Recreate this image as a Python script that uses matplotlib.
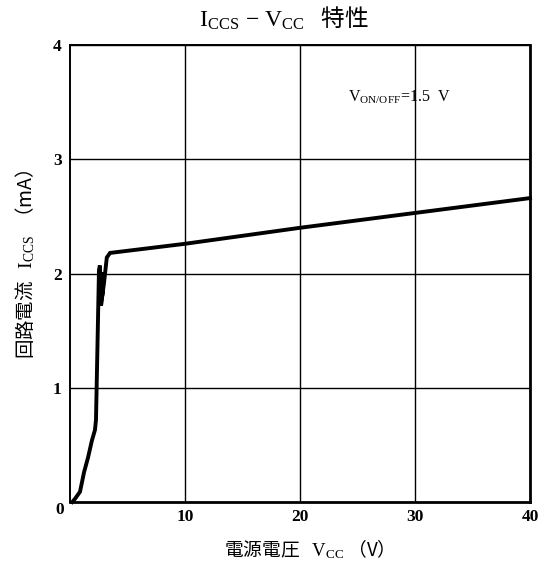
import matplotlib
matplotlib.use("Agg")
import matplotlib.pyplot as plt

plt.rcParams['mathtext.fontset'] = 'custom'
plt.rcParams['mathtext.rm'] = 'Liberation Serif'
plt.rcParams['mathtext.it'] = 'Liberation Serif:italic'
plt.rcParams['mathtext.bf'] = 'Liberation Serif:bold'

# 電源電圧 Vcc (V) と回路電流 Iccs (mA)
vcc = [0.2, 0.45, 0.87, 1.22, 1.57, 1.91, 2.17, 2.26, 2.52, 2.6, 2.7, 2.78, 2.87, 2.8, 2.96, 3.2, 3.48, 10, 20, 30, 40]
iccs = [0.0, 0.03, 0.09, 0.26, 0.39, 0.54, 0.63, 0.72, 2.03, 2.07, 1.72, 1.77, 2.01, 1.8, 1.92, 2.14, 2.18, 2.26, 2.40, 2.53, 2.66]

x_ticks = [10, 20, 30, 40]
y_ticks = [1, 2, 3, 4]

fig = plt.figure(figsize=(5.45, 5.63), dpi=100)
ax = fig.add_axes([70/545, 1-502/563, 460/545, 457/563])

ax.plot(vcc, iccs, color='black', lw=2.8, solid_joinstyle='miter', clip_on=False)

ax.set_xlim(0, 40)
ax.set_ylim(0, 4)
ax.set_xticks(x_ticks)
ax.set_yticks(y_ticks)
ax.grid(True, color='black', lw=1.0)

for s in ['left', 'top']:
    ax.spines[s].set_linewidth(1.4)
for s in ['bottom', 'right']:
    ax.spines[s].set_linewidth(2.0)

tick_font = dict(family='Liberation Serif', weight='bold', size=12.5)
ax.set_xticklabels([str(t) for t in x_ticks], fontdict=tick_font)
ax.set_yticklabels([str(t) for t in y_ticks], fontdict=tick_font)
ax.tick_params(axis='both', length=0)
ax.tick_params(axis='x', pad=5)
ax.tick_params(axis='y', pad=6)

# 原点の 0
ax.text(-0.87, -0.07, '0', ha='center', va='center', clip_on=False, **tick_font)

ax.text(24.2, 3.54, r'$\mathrm{V_{ON/OFF}\!=\!1.5\ \ V}$', fontsize=11.5,
        ha='left', va='center')

fig.text(284/545, 1-18/563, r'$\mathrm{I_{CCS}\/-\/V_{CC}}$   特性',
         family='Noto Sans CJK JP', fontsize=17, ha='center', va='center')

fig.text(304/545, 1-549/563, r'電源電圧   $\mathrm{V_{CC}}$ （V）',
         family='Noto Sans CJK JP', fontsize=13.5, ha='center', va='center')

fig.text(25/545, 1-264/563, r'回路電流   $\mathrm{I_{CCS}}$  （mA）',
         family='Noto Sans CJK JP', fontsize=14, ha='center', va='center',
         rotation=90)

fig.savefig('out.png', dpi=100)
